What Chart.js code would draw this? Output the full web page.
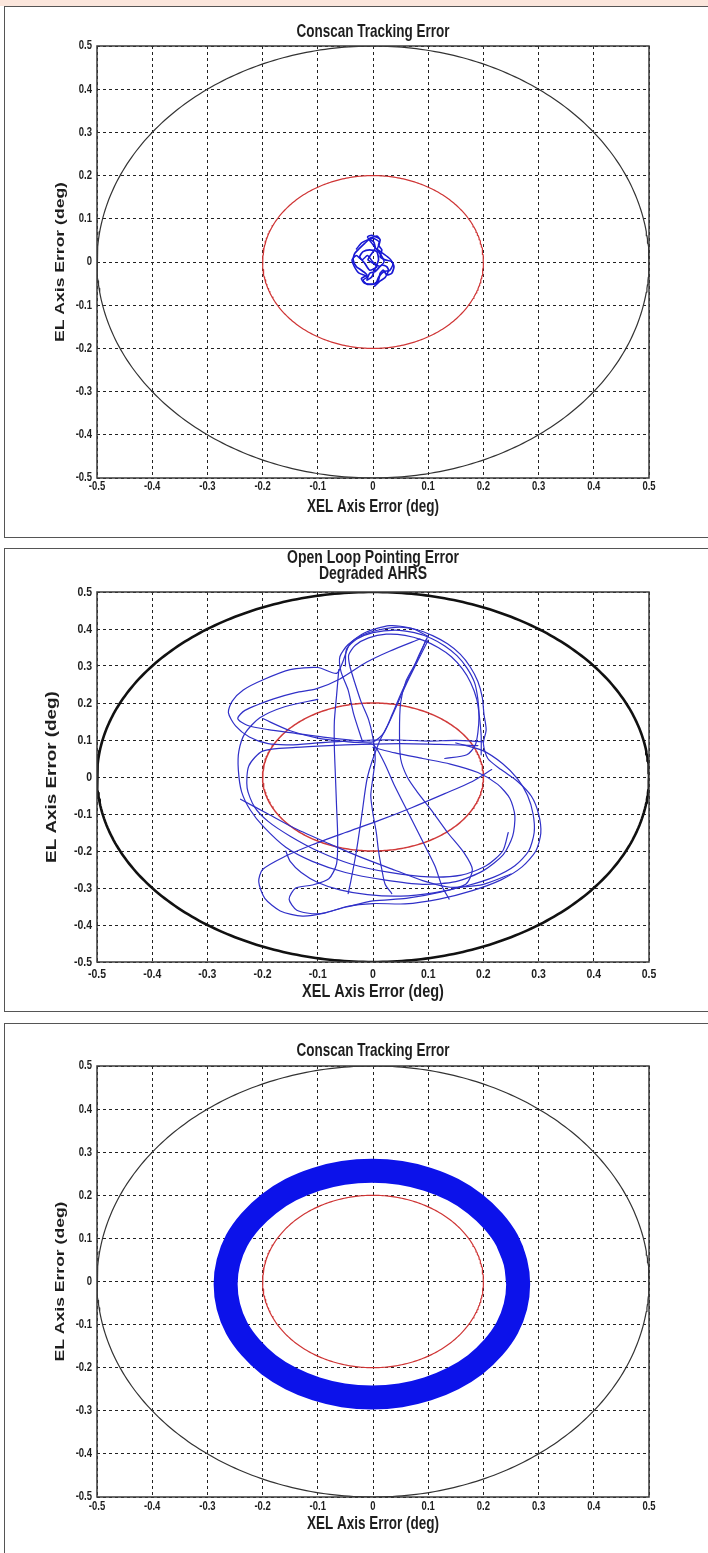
<!DOCTYPE html>
<html><head><meta charset="utf-8">
<script src="https://cdn.jsdelivr.net/npm/chart.js@4.4.1/dist/chart.umd.min.js"></script>
<style>
html,body{margin:0;padding:0;background:#fff;overflow:hidden;width:708px;height:1553px;position:relative;}
#band{position:absolute;left:0;top:0;width:708px;height:6px;background:#fbe6dc;}
.panel{position:absolute;left:4px;width:715px;border:1px solid #555;background:#fff;}
.panel canvas{display:block;}
</style></head><body>
<div id="band"></div>
<div class="panel" style="top:6px;height:530px"><canvas id="c1" width="715" height="530"></canvas></div>
<div class="panel" style="top:548px;height:462px"><canvas id="c2" width="715" height="462"></canvas></div>
<div class="panel" style="top:1023px;height:540px"><canvas id="c3" width="715" height="540"></canvas></div>
<script>
// ---------------- data ----------------
const xTickLabels = ['-0.5','-0.4','-0.3','-0.2','-0.1','0','0.1','0.2','0.3','0.4','0.5'];
const yTickLabels = ['-0.5','-0.4','-0.3','-0.2','-0.1','0','0.1','0.2','0.3','0.4','0.5'];
const xAxisTitle = 'XEL Axis Error (deg)';
const yAxisTitle = 'EL Axis Error (deg)';
const titleTop = ['Conscan Tracking Error'];
const titleMid = ['Open Loop Pointing Error', 'Degraded AHRS'];
const titleBottom = ['Conscan Tracking Error'];
const limitRadius = 0.5;   // black circle
const targetRadius = 0.2;  // red circle

// panel 1: small conscan tracking scribble
const trackSmall = [
 [-0.006,0.055],[0.007,0.06],[0.013,0.051],[0.010,0.039],[0.016,0.028],[0.013,0.012],[0.022,0.005],
 [0.034,0.001],[0.038,-0.011],[0.034,-0.026],[0.025,-0.030],[0.019,-0.019],[0.013,-0.026],[0.010,-0.042],
 [0.001,-0.051],[-0.015,-0.049],[-0.021,-0.038],[-0.011,-0.030],[-0.021,-0.019],[-0.030,-0.011],
 [-0.036,0.005],[-0.033,0.020],[-0.024,0.032],[-0.015,0.043],[-0.007,0.052],[0.001,0.047],[0.004,0.032],
 [-0.002,0.020],[-0.009,0.005],[0.001,-0.003],[0.007,-0.011],[-0.006,-0.019],[-0.015,-0.003],
 [-0.024,0.012],[-0.018,0.024],[-0.006,0.028],[0.007,0.024],[0.010,0.005],[0.004,-0.015],[-0.002,-0.034],
 [-0.011,-0.042],[-0.006,-0.026],[0.004,-0.022],[0.016,-0.007],[0.025,-0.011],[0.028,-0.019],[0.022,-0.036],
 [0.012,-0.045],[0.003,-0.056]
];
const trackSmall2 = [
 [-0.03,0.03],[-0.02,0.045],[0.0,0.055],[0.012,0.045],[0.008,0.03],[0.018,0.02],[0.03,0.008],[0.036,-0.005],
 [0.03,-0.02],[0.02,-0.022],[0.01,-0.035],[0.005,-0.05],[-0.01,-0.052],[-0.018,-0.042],[-0.01,-0.034],
 [-0.026,-0.025],[-0.034,-0.01],[-0.038,0.005],[-0.03,0.015],[-0.02,0.005],[-0.01,0.015],[0.0,0.0],
 [0.012,-0.01],[0.02,0.0],[0.015,0.015],[0.0,0.04],[-0.01,0.058],[-0.002,0.062],[0.01,0.055]
];

// panel 2: open loop pointing error traces
const olLoop1 = [[-0.02,0.1],[-0.035,0.17],[-0.045,0.235],[-0.058,0.285],[-0.06,0.325],[-0.045,0.358],[-0.02,0.383],[0.012,0.398],[0.048,0.405],[0.08,0.398],[0.108,0.382],[0.135,0.36],[0.158,0.332],[0.176,0.298],[0.19,0.258],[0.198,0.215],[0.201,0.17],[0.205,0.128],[0.2,0.09],[0.208,0.05],[0.232,0.02],[0.262,-0.012],[0.287,-0.052],[0.3,-0.1],[0.304,-0.152],[0.295,-0.2],[0.27,-0.243],[0.232,-0.278],[0.18,-0.307],[0.12,-0.33],[0.058,-0.343],[0.0,-0.342],[-0.048,-0.35],[-0.088,-0.368],[-0.128,-0.376],[-0.168,-0.362],[-0.196,-0.328],[-0.207,-0.283],[-0.2,-0.25],[-0.16,-0.215],[-0.11,-0.183],[-0.05,-0.15],[0.01,-0.118],[0.07,-0.083],[0.13,-0.045],[0.18,-0.012],[0.215,0.02]];
const olLoop2 = [[0.196,0.06],[0.196,0.11],[0.193,0.16],[0.188,0.21],[0.177,0.255],[0.162,0.292],[0.142,0.325],[0.118,0.35],[0.09,0.37],[0.058,0.383],[0.024,0.386],[-0.008,0.376],[-0.032,0.356],[-0.044,0.33],[-0.042,0.3],[-0.033,0.255],[-0.022,0.205],[-0.008,0.155],[0.0,0.105],[0.004,0.05],[0.0,0.0],[-0.004,-0.05],[0.0,-0.1],[0.006,-0.15],[0.01,-0.2],[0.016,-0.25],[0.022,-0.29],[0.034,-0.315]];
const olLoop3 = [[0.2,0.095],[0.15,0.099],[0.1,0.097],[0.05,0.1],[0.0,0.1],[-0.05,0.097],[-0.1,0.092],[-0.15,0.087],[-0.19,0.09],[-0.224,0.108],[-0.249,0.138],[-0.262,0.174],[-0.255,0.205],[-0.235,0.235],[-0.2,0.262],[-0.15,0.29],[-0.1,0.296],[-0.066,0.28],[-0.055,0.31],[-0.042,0.36],[-0.015,0.39],[0.03,0.409],[0.07,0.402],[0.1,0.38]];
const olLoop4 = [[0.098,0.376],[0.085,0.335],[0.07,0.285],[0.052,0.23],[0.035,0.17],[0.02,0.12],[0.0,0.095],[-0.04,0.1],[-0.09,0.108],[-0.14,0.118],[-0.19,0.128],[-0.228,0.14],[-0.245,0.158],[-0.232,0.18],[-0.18,0.211],[-0.14,0.228],[-0.103,0.238],[-0.06,0.265],[-0.012,0.31],[0.03,0.34],[0.085,0.373]];
const olLoop5 = [[-0.1,0.21],[-0.16,0.19],[-0.205,0.16],[-0.232,0.118],[-0.243,0.07],[-0.244,0.02],[-0.238,-0.04],[-0.222,-0.09],[-0.198,-0.135],[-0.158,-0.19],[-0.11,-0.228],[-0.05,-0.258],[0.02,-0.278],[0.09,-0.29],[0.15,-0.283],[0.2,-0.253],[0.236,-0.21],[0.253,-0.16],[0.257,-0.105],[0.248,-0.058],[0.226,-0.02],[0.19,0.012],[0.14,0.035],[0.09,0.05],[0.04,0.065],[0.0,0.08]];
const olLoop6 = [[-0.062,0.29],[-0.066,0.22],[-0.07,0.15],[-0.07,0.08],[-0.068,0.0],[-0.066,-0.08],[-0.064,-0.16],[-0.066,-0.235],[-0.08,-0.275],[-0.11,-0.292],[-0.14,-0.3],[-0.152,-0.33],[-0.138,-0.36],[-0.1,-0.37],[-0.05,-0.352],[0.0,-0.335],[0.06,-0.328],[0.12,-0.312],[0.168,-0.29],[0.18,-0.25],[0.165,-0.205],[0.135,-0.15],[0.105,-0.088],[0.08,-0.04],[0.062,0.0],[0.05,0.05],[0.048,0.12],[0.05,0.2],[0.06,0.26],[0.08,0.315],[0.096,0.37]];
const olLoop7 = [[0.15,0.092],[0.198,0.072],[0.235,0.036],[0.262,-0.005],[0.28,-0.05],[0.29,-0.1],[0.292,-0.15],[0.282,-0.2],[0.257,-0.24],[0.22,-0.27],[0.17,-0.294],[0.11,-0.313],[0.05,-0.322],[-0.01,-0.318],[-0.06,-0.305],[-0.1,-0.285],[-0.13,-0.258],[-0.15,-0.228],[-0.158,-0.2]];
const olLoop8 = [[-0.2,0.158],[-0.15,0.125],[-0.1,0.105],[-0.04,0.094],[0.0,0.088],[0.02,0.04],[0.038,-0.02],[0.065,-0.1],[0.092,-0.18],[0.112,-0.24],[0.125,-0.295],[0.138,-0.33]];
const olLoop9 = [[-0.24,-0.06],[-0.19,-0.1],[-0.14,-0.14],[-0.08,-0.18],[-0.02,-0.218],[0.04,-0.252],[0.09,-0.28],[0.14,-0.298],[0.2,-0.29],[0.25,-0.262]];
const olLoop10 = [[0.1,0.37],[0.06,0.25],[0.03,0.15],[0.01,0.09],[-0.01,0.0],[-0.02,-0.1],[-0.03,-0.2],[-0.04,-0.28],[-0.045,-0.315]];
const olLoop11 = [[-0.05,0.3],[-0.048,0.345],[-0.03,0.372],[0.0,0.39],[0.04,0.397],[0.075,0.39],[0.105,0.375],[0.13,0.354],[0.152,0.328],[0.17,0.295],[0.184,0.255],[0.19,0.21],[0.192,0.165],[0.19,0.12],[0.185,0.085],[0.17,0.06],[0.13,0.05]];
const olLoop12 = [[0.19,0.085],[0.12,0.088],[0.05,0.09],[-0.02,0.088],[-0.08,0.085],[-0.14,0.08],[-0.2,0.07],[-0.225,0.03],[-0.228,-0.03],[-0.215,-0.08],[-0.19,-0.12],[-0.15,-0.16],[-0.1,-0.2],[-0.04,-0.235],[0.03,-0.258],[0.1,-0.27],[0.16,-0.265],[0.205,-0.24],[0.235,-0.2],[0.245,-0.15]];

// panel 3: conscan ring (centre line of the dense band)
const ringTrack = [[0.263,-0.006],[0.258,0.045],[0.243,0.095],[0.218,0.140],[0.185,0.180],[0.145,0.213],[0.099,0.237],[0.050,0.252],
 [-0.002,0.257],[-0.054,0.252],[-0.103,0.237],[-0.149,0.213],[-0.189,0.180],[-0.222,0.140],[-0.247,0.095],[-0.262,0.045],
 [-0.267,-0.006],[-0.262,-0.058],[-0.247,-0.108],[-0.222,-0.153],[-0.189,-0.193],[-0.149,-0.225],[-0.103,-0.249],[-0.054,-0.264],
 [-0.002,-0.269],[0.050,-0.264],[0.099,-0.249],[0.145,-0.225],[0.185,-0.193],[0.218,-0.153],[0.243,-0.108],[0.258,-0.058]];

// ---------------- drawing ----------------
const FONT = "'Liberation Sans', Arial, Helvetica, sans-serif";
const TEXT_STRETCH = 1.3;
const CIRCLE_STEPS = 360;
const toPts = arr => arr.map(([x, y]) => ({x, y}));
function circlePts(r) {
  const pts = [];
  for (let k = 0; k <= CIRCLE_STEPS; k++) {
    const t = 2 * Math.PI * k / CIRCLE_STEPS;
    pts.push({x: r * Math.cos(t), y: r * Math.sin(t)});
  }
  return pts;
}
function lineSet(points, color, width, tension) {
  return {data: points, showLine: true, borderColor: color, backgroundColor: color, borderWidth: width,
    pointRadius: 0, pointHoverRadius: 0, fill: false, tension: tension || 0,
    borderCapStyle: 'round', borderJoinStyle: 'round'};
}

const framePlugin = {
  id: 'frame',
  afterDatasetsDraw(chart) {
    const {ctx, chartArea: a} = chart;
    ctx.save();
    ctx.strokeStyle = '#3a3a3a';
    ctx.lineWidth = 1.5;
    ctx.setLineDash([]);
    ctx.strokeRect(a.left, a.top, a.right - a.left, a.bottom - a.top);
    ctx.restore();
  }
};
const stretchPlugin = {
  id: 'textStretch',
  beforeInit(chart) {
    const ctx = chart.ctx;
    const orig = ctx.fillText;
    ctx.fillText = function (text, x, y, maxWidth) {
      const m = ctx.getTransform();
      const p = m.transformPoint(new DOMPoint(x, y));
      ctx.save();
      ctx.setTransform(new DOMMatrix().translate(p.x, p.y).scale(1, TEXT_STRETCH).translate(-p.x, -p.y).multiply(m));
      if (maxWidth === undefined || maxWidth === null) orig.call(ctx, text, x, y);
      else orig.call(ctx, text, x, y, maxWidth);
      ctx.restore();
    };
  }
};

function makeChart(id, P, datasets) {
  const font = (size, lh) => ({family: FONT, size, weight: 'bold', lineHeight: lh || 1.2});
  const axisCommon = () => ({
    type: 'linear', min: -0.5, max: 0.5,
    grid: {color: '#222', lineWidth: 1, drawTicks: false},
    border: {display: false, dash: [3, 3]},
  });
  return new Chart(document.getElementById(id), {
    type: 'scatter',
    data: {datasets},
    plugins: [framePlugin, stretchPlugin],
    options: {
      responsive: false, animation: false, devicePixelRatio: 1,
      layout: {padding: {left: 0, right: 71, top: 0, bottom: 0}},
      plugins: {
        legend: {display: false}, tooltip: {enabled: false},
        title: {display: true, text: P.title, color: '#1e1e1e', fullSize: false,
          font: font(P.titleSize, P.titleLH), padding: {top: P.titlePadTop, bottom: P.titlePadBottom}}
      },
      scales: {
        x: Object.assign(axisCommon(), {
          ticks: {stepSize: 0.1, autoSkip: false, maxRotation: 0, padding: P.xTickPad, color: '#1e1e1e',
            font: font(P.tickSize), callback: (v, i) => xTickLabels[i]},
          title: {display: true, text: xAxisTitle, color: '#1e1e1e', font: font(P.axisTitleSize),
            padding: {top: 0, bottom: P.xTitlePad}},
          afterFit: s => { s.height = P.xHeight; }
        }),
        y: Object.assign(axisCommon(), {
          ticks: {stepSize: 0.1, autoSkip: false, padding: 5, color: '#1e1e1e',
            font: font(P.tickSize), callback: (v, i) => yTickLabels[i]},
          title: {display: true, text: yAxisTitle, color: '#1e1e1e', font: font(P.axisTitleSize),
            padding: {top: P.yTitlePad, bottom: 0}},
          afterFit: s => { s.width = 92; }
        })
      }
    }
  });
}

// Panel 1
makeChart('c1', {title: titleTop, titleSize: 13.5, titleLH: 1.2, titlePadTop: 17, titlePadBottom: 5.8,
  tickSize: 9.5, xTickPad: 3, axisTitleSize: 13.5, xTitlePad: 21.9, xHeight: 59, yTitlePad: 46.9}, [
  lineSet(toPts(trackSmall), '#1818d4', 1.7, 0.2),
  lineSet(toPts(trackSmall2), '#1818d4', 1.5, 0.2),
  lineSet(circlePts(targetRadius), '#cf3535', 1.2),
  lineSet(circlePts(limitRadius), '#333333', 1.2)
]);

// Panel 2
const olColor = '#3030c8';
const olSets = [olLoop1, olLoop2, olLoop3, olLoop4, olLoop5, olLoop6, olLoop7, olLoop8, olLoop9, olLoop10, olLoop11, olLoop12]
  .map(a => lineSet(toPts(a), olColor, 1.2, 0.25));
makeChart('c2', {title: titleMid, titleSize: 14, titleLH: '16px', titlePadTop: 1, titlePadBottom: 10,
  tickSize: 10.5, xTickPad: 5.5, axisTitleSize: 14.5, xTitlePad: 10.3, xHeight: 49, yTitlePad: 38.3},
  olSets.concat([
    lineSet(circlePts(targetRadius), '#d03a3a', 1.5),
    lineSet(circlePts(limitRadius), '#111111', 2.6)
  ]));

// Panel 3
const ringClosed = ringTrack.concat(ringTrack.slice(0, 3));
makeChart('c3', {title: titleBottom, titleSize: 13.5, titleLH: 1.2, titlePadTop: 18.9, titlePadBottom: 6.9,
  tickSize: 9.5, xTickPad: 4.3, axisTitleSize: 13.5, xTitlePad: 31.9, xHeight: 67, yTitlePad: 46.9}, [
  lineSet(toPts(ringClosed), '#0c12ea', 24, 0.4),
  lineSet(circlePts(targetRadius), '#cf3535', 1.2),
  lineSet(circlePts(limitRadius), '#333333', 1.2)
]);
</script>
</body></html>
